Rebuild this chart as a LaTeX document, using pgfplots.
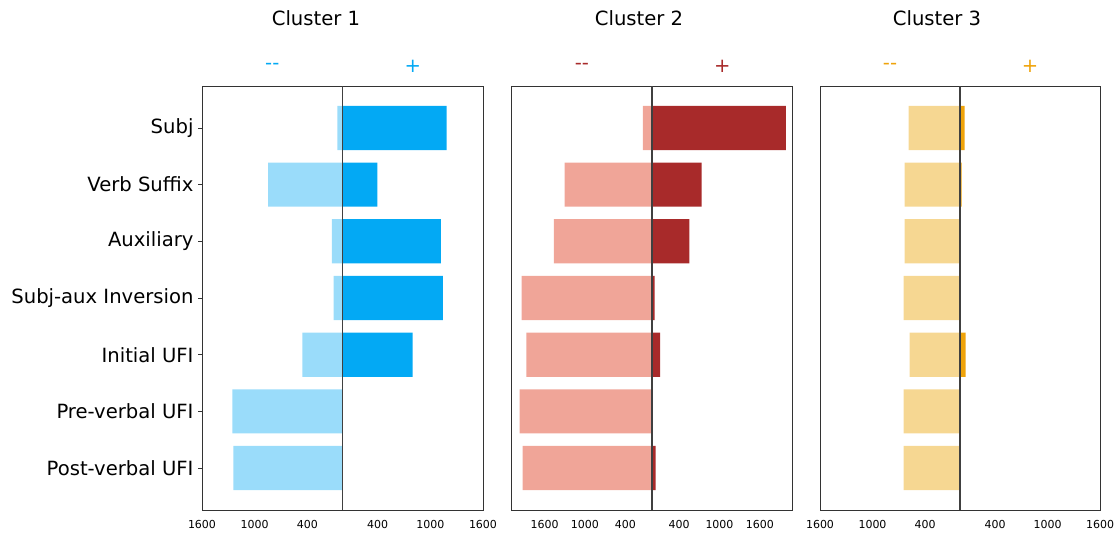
\documentclass[border=0pt]{standalone}
\usepackage{pgfplots}
\pgfplotsset{compat=1.18}
\usepackage{fontspec}
\setmainfont{DejaVu Sans}
\definecolor{bluepos}{HTML}{03A9F4}
\definecolor{blueneg}{HTML}{9ADCFA}
\definecolor{redpos}{HTML}{A82A2A}
\definecolor{redneg}{HTML}{F0A598}
\definecolor{orpos}{HTML}{EFA30A}
\definecolor{orneg}{HTML}{F6D792}
\pgfplotsset{
  panel/.style={
    scale only axis, width=281pt, height=424pt, anchor=south west,
    xbar, bar shift=0pt, bar width=0.78,
    y dir=reverse, ymin=-0.74, ymax=6.74,
    ytick={0,1,2,3,4,5,6},
    axis line style={black!80, line width=0.9pt},
    xtick={-1600,-1000,-400,400,1000,1600},
    xticklabels={1600,1000,400,400,1000,1600},
    xtick style={draw=none},
    xticklabel style={font=\fontsize{11}{13}\selectfont, yshift=-3pt},
    /pgf/number format/assume math mode=true,
    tick align=outside, ytick pos=left,
    major tick length=4pt,
    ytick style={black!80, line width=0.9pt},
    clip=false,
  }
}
\newcommand{\bigf}{\fontsize{19.6}{23}\selectfont}
\begin{document}
\begin{tikzpicture}[x=1pt,y=1pt]
\useasboundingbox (0,0) rectangle (1117,-536);
% Cluster 1
\begin{axis}[panel, at={(202pt,-510pt)}, xmin=-1600, xmax=1600,
  yticklabels={Subj,Verb Suffix,Auxiliary,Subj-aux Inversion,Initial UFI,Pre-verbal UFI,Post-verbal UFI},
  yticklabel style={font=\bigf, xshift=-1pt}]
\addplot[fill=blueneg, draw=none] coordinates {(-57,0) (-847,1) (-121,2) (-102,3) (-457,4) (-1255,5) (-1244,6)};
\addplot[fill=bluepos, draw=none] coordinates {(1187,0) (397,1) (1119,2) (1142,3) (798,4)};
\draw[black!75, line width=1.5pt] (axis cs:0,-0.74) -- (axis cs:0,6.74);
\node[text=bluepos, font=\bigf] at (rel axis cs:0.25,1) [yshift=20pt] {-{}-};
\node[text=bluepos, font=\bigf] at (rel axis cs:0.75,1) [yshift=20pt] {+};
\end{axis}
% Cluster 2
\begin{axis}[panel, at={(511.7pt,-510pt)}, xmin=-2088, xmax=2088, ytick=\empty]
\addplot[fill=redneg, draw=none] coordinates {(-139,0) (-1302,1) (-1460,2) (-1940,3) (-1871,4) (-1970,5) (-1926,6)};
\addplot[fill=redpos, draw=none] coordinates {(1986,0) (733,1) (554,2) (35,3) (119,4) (50,6)};
\draw[black!75, line width=1.5pt] (axis cs:0,-0.74) -- (axis cs:0,6.74);
\node[text=redpos, font=\bigf] at (rel axis cs:0.25,1) [yshift=20pt] {-{}-};
\node[text=redpos, font=\bigf] at (rel axis cs:0.75,1) [yshift=20pt] {+};
\end{axis}
% Cluster 3
\begin{axis}[panel, width=280pt, at={(820pt,-510pt)}, xmin=-1600, xmax=1600, ytick=\empty]
\addplot[fill=orneg, draw=none] coordinates {(-587,0) (-632,1) (-632,2) (-644,3) (-575,4) (-644,5) (-644,6)};
\addplot[fill=orpos, draw=none] coordinates {(53,0) (19,1) (65,4)};
\draw[black!75, line width=1.5pt] (axis cs:0,-0.74) -- (axis cs:0,6.74);
\node[text=orpos, font=\bigf] at (rel axis cs:0.25,1) [yshift=20pt] {-{}-};
\node[text=orpos, font=\bigf] at (rel axis cs:0.75,1) [yshift=20pt] {+};
\end{axis}
\node[font=\bigf, anchor=base] at (316,-25.7) {Cluster 1};
\node[font=\bigf, anchor=base] at (639,-25.7) {Cluster 2};
\node[font=\bigf, anchor=base] at (937,-25.7) {Cluster 3};
\end{tikzpicture}
\end{document}
